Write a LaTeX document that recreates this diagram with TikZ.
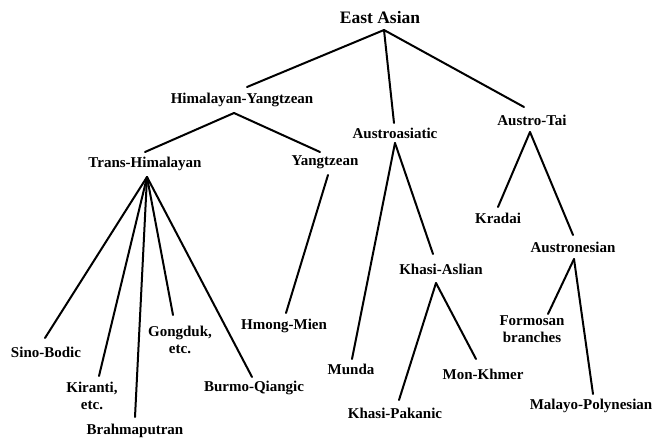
\documentclass[tikz,border=0pt]{standalone}
\usepackage{fontspec}
\setmainfont{Liberation Serif}
\begin{document}
\begin{tikzpicture}[x=1pt,y=-1pt,
  lbl/.style={font=\bfseries\fontsize{15}{17}\selectfont, inner sep=0pt, align=center},
  toplbl/.style={font=\bfseries\fontsize{17.5}{20}\selectfont, inner sep=0pt},
  edge/.style={line width=2pt, line cap=round}]
\useasboundingbox[fill=white] (0,0) rectangle (655,441);
% nodes
\node[toplbl] (ea) at (380,18) {East Asian};
\node[lbl] (hy) at (242,100) {Himalayan-Yangtzean};
\node[lbl] (aa) at (395,133) {Austroasiatic};
\node[lbl] (at) at (532,120) {Austro-Tai};
\node[lbl] (th) at (145,164) {Trans-Himalayan};
\node[lbl] (yz) at (325,162) {Yangtzean};
\node[lbl] (sb) at (46,352) {Sino-Bodic};
\node[lbl] (ki) at (92,396) {Kiranti,\\etc.};
\node[lbl] (br) at (135,431) {Brahmaputran};
\node[lbl] (go) at (180,339.5) {Gongduk,\\etc.};
\node[lbl] (bq) at (254,388) {Burmo-Qiangic};
\node[lbl] (hm) at (284,326) {Hmong-Mien};
\node[lbl] (mu) at (351,369) {Munda};
\node[lbl] (ka) at (441,269) {Khasi-Aslian};
\node[lbl] (kp) at (395,413) {Khasi-Pakanic};
\node[lbl] (mk) at (483,374) {Mon-Khmer};
\node[lbl] (kr) at (498,218) {Kradai};
\node[lbl] (an) at (573,247) {Austronesian};
\node[lbl] (fo) at (532,329) {Formosan\\branches};
\node[lbl] (mp) at (591,406) {Malayo-Polynesian};
% edges
\draw[edge] ([shift={(4,12)}]ea.center) -- ([shift={(5,-13)}]hy.center);
\draw[edge] ([shift={(4,12)}]ea.center) -- ([shift={(-1,-10)}]aa.center);
\draw[edge] ([shift={(4,12)}]ea.center) -- ([shift={(-8,-13)}]at.center);
\draw[edge] ([shift={(-8,13)}]hy.center) -- ([shift={(0,-12)}]th.center);
\draw[edge] ([shift={(-8,13)}]hy.center) -- ([shift={(-5,-10)}]yz.center);
\draw[edge] ([shift={(2,13)}]th.center) -- ([shift={(-1,-14)}]sb.center);
\draw[edge] ([shift={(2,13)}]th.center) -- ([shift={(7,-20)}]ki.center);
\draw[edge] ([shift={(2,13)}]th.center) -- ([shift={(0,-14)}]br.center);
\draw[edge] ([shift={(2,13)}]th.center) -- ([shift={(-7,-24.5)}]go.center);
\draw[edge] ([shift={(2,13)}]th.center) -- ([shift={(-2,-11)}]bq.center);
\draw[edge] ([shift={(3,13)}]yz.center) -- ([shift={(2,-13)}]hm.center);
\draw[edge] ([shift={(0,10)}]aa.center) -- ([shift={(1,-10)}]mu.center);
\draw[edge] ([shift={(0,10)}]aa.center) -- ([shift={(-8,-15)}]ka.center);
\draw[edge] ([shift={(-5,14)}]ka.center) -- ([shift={(4,-13)}]kp.center);
\draw[edge] ([shift={(-5,14)}]ka.center) -- ([shift={(-7,-15)}]mk.center);
\draw[edge] ([shift={(-2,12)}]at.center) -- ([shift={(0,-11)}]kr.center);
\draw[edge] ([shift={(-2,12)}]at.center) -- ([shift={(0,-12)}]an.center);
\draw[edge] ([shift={(1,12)}]an.center) -- ([shift={(16,-15)}]fo.center);
\draw[edge] ([shift={(1,12)}]an.center) -- ([shift={(2,-12)}]mp.center);
\end{tikzpicture}
\end{document}
